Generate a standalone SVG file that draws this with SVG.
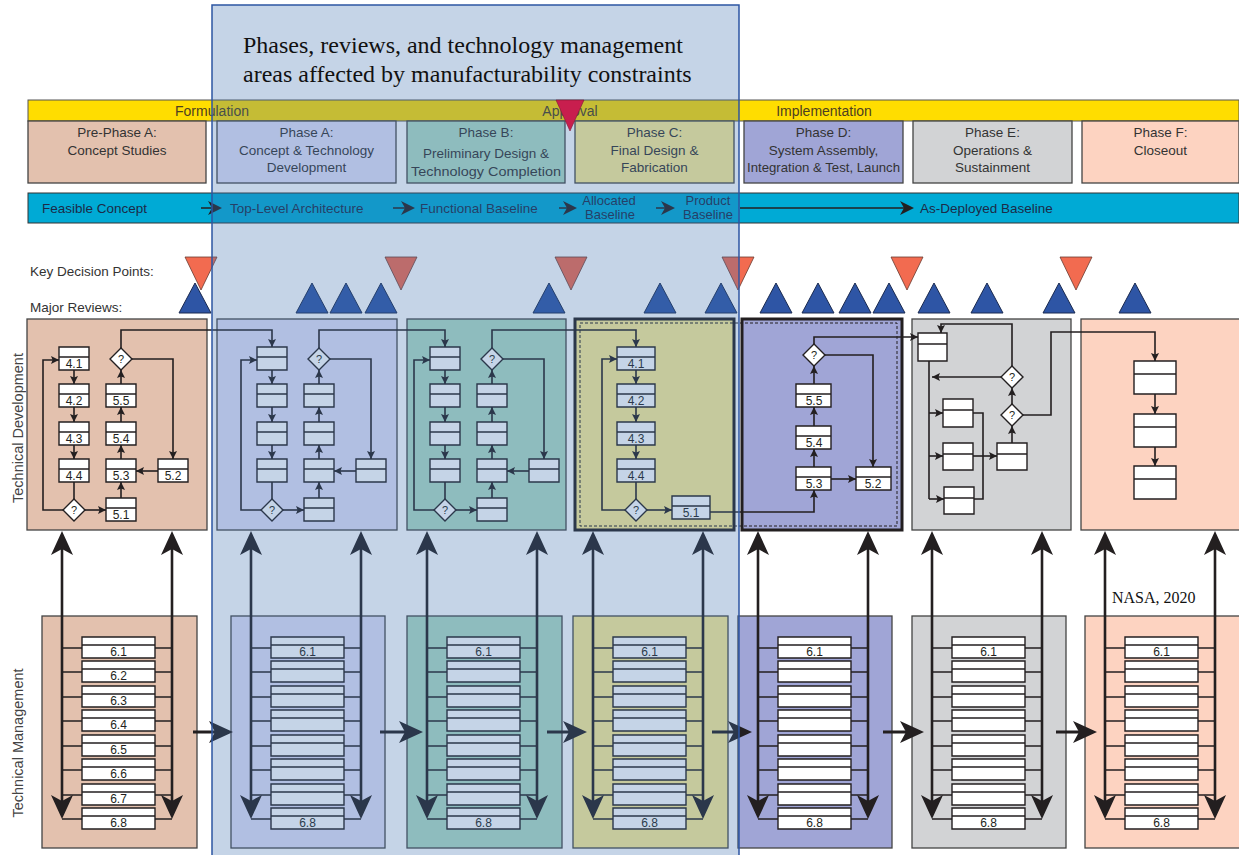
<svg xmlns="http://www.w3.org/2000/svg" width="1239" height="855" viewBox="0 0 1239 855">
<style>
.t{font-family:"Liberation Sans",Arial,sans-serif;font-size:13.5px;fill:#333;text-anchor:middle}
.tl{font-family:"Liberation Sans",Arial,sans-serif;font-size:13.5px;fill:#333}
.tb{font-family:"Liberation Sans",Arial,sans-serif;font-size:13.5px;fill:#1c2a48}
.tbc{font-family:"Liberation Sans",Arial,sans-serif;font-size:13px;fill:#1c2a48;text-anchor:middle}
.ty{font-family:"Liberation Sans",Arial,sans-serif;font-size:14px;fill:#4d4020;text-anchor:middle}
.lb{font-family:"Liberation Sans",Arial,sans-serif;font-size:12px;fill:#231f20;text-anchor:middle}
.q{font-family:"Liberation Sans",Arial,sans-serif;font-size:11px;fill:#231f20;text-anchor:middle}
.rot{font-family:"Liberation Sans",Arial,sans-serif;font-size:14.5px;fill:#444;text-anchor:middle}
.ln{fill:none;stroke:#231f20;stroke-width:1.6}
.a{marker-end:url(#ah)}
.bx{fill:#fff;stroke:#231f20;stroke-width:1.4}
.ph{stroke:#444;stroke-width:1.3}
.kdp{fill:#f26b50;stroke:#6a3a30;stroke-width:0.8}
.mr{fill:#2e55a5;stroke:#1a2a50;stroke-width:1}
.vl{fill:none;stroke:#231f20;stroke-width:2.6;marker-start:url(#ahb);marker-end:url(#ahb)}
.hl{fill:none;stroke:#231f20;stroke-width:3;marker-end:url(#ahb)}
.bl{fill:none;stroke:#231f20;stroke-width:1.5;marker-end:url(#ahs)}
.ser{font-family:"Liberation Serif","Times New Roman",serif;fill:#111}
.cP{fill:#e3c1ae}.cA{fill:#e3e1f8}.cB{fill:#b1ddc4}.cC{fill:#fff096}.cD{fill:#a0a5d6}.cE{fill:#d2d3d5}.cF{fill:#fdd3c1}
</style>
<defs>
<marker id="ah" viewBox="0 0 10 10" refX="10" refY="5" markerWidth="8" markerHeight="8" markerUnits="userSpaceOnUse" orient="auto"><path d="M0,0 L10,5 L0,10 L2,5 Z" fill="#231f20"/></marker>
<marker id="ahb" viewBox="0 0 24 22" refX="20" refY="11" markerWidth="24" markerHeight="22" markerUnits="userSpaceOnUse" orient="auto-start-reverse"><path d="M0,0 L24,11 L0,22 L6,11 Z" fill="#231f20"/></marker>
<marker id="ahs" viewBox="0 0 14 14" refX="12" refY="7" markerWidth="14" markerHeight="14" markerUnits="userSpaceOnUse" orient="auto"><path d="M0,0 L14,7 L0,14 L4,7 Z" fill="#231f20"/></marker>
<g id="fcn">
<path class="bx" d="M59,347h30v23h-30z M59,357h30"/>
<path class="bx" d="M59,384h30v23h-30z M59,394h30"/>
<path class="bx" d="M59,422h30v23h-30z M59,432h30"/>
<path class="bx" d="M59,459h30v23h-30z M59,469h30"/>
<path class="bx" d="M106,384h30v23h-30z M106,394h30"/>
<path class="bx" d="M106,422h30v23h-30z M106,432h30"/>
<path class="bx" d="M106,459h30v23h-30z M106,469h30"/>
<path class="bx" d="M106,498h30v23h-30z M106,508h30"/>
<path class="bx" d="M158,459h30v23h-30z M158,469h30"/>
<path class="bx" d="M74,499L85,510L74,521L63,510Z"/><text class="q" x="74" y="514">?</text>
<path class="bx" d="M121,348L132,359L121,370L110,359Z"/><text class="q" x="121" y="363">?</text>
</g>
<g id="fce">
<path class="ln a" d="M74,370V384"/>
<path class="ln a" d="M74,407V422"/>
<path class="ln a" d="M74,445V459"/>
<path class="ln" d="M74,482V499"/>
<path class="ln a" d="M85,510H106"/>
<path class="ln a" d="M63,510H43V360H59"/>
<path class="ln a" d="M121,498V482"/>
<path class="ln a" d="M121,459V445"/>
<path class="ln a" d="M121,422V407"/>
<path class="ln a" d="M121,384V370"/>
<path class="ln a" d="M132,359H173V459"/>
<path class="ln a" d="M158,471H136"/>
</g>
<g id="ldn">
<path class="bx" d="M40,21h73v21h-73z M40,29h73"/>
<path class="bx" d="M40,45h73v21h-73z M40,53h73"/>
<path class="bx" d="M40,70h73v21h-73z M40,78h73"/>
<path class="bx" d="M40,94h73v21h-73z M40,102h73"/>
<path class="bx" d="M40,119h73v21h-73z M40,127h73"/>
<path class="bx" d="M40,143h73v21h-73z M40,151h73"/>
<path class="bx" d="M40,168h73v21h-73z M40,176h73"/>
<path class="bx" d="M40,192h73v21h-73z M40,200h73"/>
</g>
<g id="lde">
<path class="ln" d="M20,32H40M113,32H130M20,56H40M113,56H130M20,81H40M113,81H130M20,105H40M113,105H130M20,130H40M113,130H130M20,154H40M113,154H130M20,179H40M113,179H130M20,203H40M113,203H130"/>
<path class="vl" d="M20,-81V199"/>
<path class="vl" d="M130,-81V199"/>
</g>
</defs>

<rect width="1239" height="855" fill="#fff"/>

<g id="lifecycle-bar">
<rect x="28" y="100" width="1211" height="21" fill="#ffdd00" stroke="#555" stroke-width="1"/>
<text class="ty" x="212" y="116">Formulation</text>
<text class="ty" x="570" y="116">Approval</text>
<text class="ty" x="824" y="116">Implementation</text>
</g>

<g id="phase-headers">
<g id="hdr-pre-a"><rect class="cP ph" x="28" y="121" width="178" height="62"/><text class="t" x="117" y="137">Pre-Phase A:</text><text class="t" x="117" y="155">Concept Studies</text></g>
<g id="hdr-a"><rect class="cA ph" x="217" y="121" width="179" height="62"/><text class="t" x="306.5" y="137">Phase A:</text><text class="t" x="306.5" y="155">Concept &amp; Technology</text><text class="t" x="306.5" y="172">Development</text></g>
<g id="hdr-b"><rect class="cB ph" x="407" y="121" width="158" height="62"/><text class="t" x="486" y="137">Phase B:</text><text class="t" x="486" y="158">Preliminary Design &amp;</text><text class="t" x="486" y="176" textLength="150" lengthAdjust="spacingAndGlyphs">Technology Completion</text></g>
<g id="hdr-c"><rect class="cC ph" x="575" y="121" width="159" height="62"/><text class="t" x="654.5" y="137">Phase C:</text><text class="t" x="654.5" y="155">Final Design &amp;</text><text class="t" x="654.5" y="172">Fabrication</text></g>
<g id="hdr-d"><rect class="cD ph" x="744" y="121" width="159" height="62"/><text class="t" x="823.5" y="137">Phase D:</text><text class="t" x="823.5" y="155">System Assembly,</text><text class="t" x="823.5" y="172" textLength="153" lengthAdjust="spacingAndGlyphs">Integration &amp; Test, Launch</text></g>
<g id="hdr-e"><rect class="cE ph" x="913" y="121" width="159" height="62"/><text class="t" x="992.5" y="137">Phase E:</text><text class="t" x="992.5" y="155">Operations &amp;</text><text class="t" x="992.5" y="172">Sustainment</text></g>
<g id="hdr-f"><rect class="cF ph" x="1082" y="121" width="157" height="62"/><text class="t" x="1160.5" y="137">Phase F:</text><text class="t" x="1160.5" y="155">Closeout</text></g>
</g>

<g id="baselines">
<rect x="28" y="193" width="1211" height="30" fill="#00aad5" stroke="#333" stroke-width="1"/>
<text class="tb" x="42" y="213">Feasible Concept</text>
<text class="tb" x="230" y="213">Top-Level Architecture</text>
<text class="tb" x="420" y="213">Functional Baseline</text>
<text class="tbc" x="609" y="205">Allocated</text><text class="tbc" x="610" y="219">Baseline</text>
<text class="tbc" x="708" y="205">Product</text><text class="tbc" x="708" y="219">Baseline</text>
<text class="tb" x="920" y="213">As-Deployed Baseline</text>
<path class="bl" d="M201,208H220"/>
<path class="bl" d="M393,208H413"/>
<path class="bl" d="M559,208H575"/>
<path class="bl" d="M656,208H673"/>
<path class="bl" d="M740,208H912"/>
</g>

<g id="milestones">
<text class="tl" x="30" y="276">Key Decision Points:</text>
<text class="tl" x="30" y="312">Major Reviews:</text>
<g id="kdps">
<path class="kdp" d="M185,257H217L201,290Z"/>
<path class="kdp" d="M385,257H417L401,290Z"/>
<path class="kdp" d="M555,257H587L571,290Z"/>
<path class="kdp" d="M722,257H754L738,290Z"/>
<path class="kdp" d="M891,257H923L907,290Z"/>
<path class="kdp" d="M1060,257H1092L1076,290Z"/>
</g>
<g id="reviews">
<path class="mr" d="M195,283L179,313H211Z"/>
<path class="mr" d="M312,283L296,313H328Z"/>
<path class="mr" d="M346,283L330,313H362Z"/>
<path class="mr" d="M381,283L365,313H397Z"/>
<path class="mr" d="M549,283L533,313H565Z"/>
<path class="mr" d="M660,283L644,313H676Z"/>
<path class="mr" d="M721,283L705,313H737Z"/>
<path class="mr" d="M776,283L760,313H792Z"/>
<path class="mr" d="M818,283L802,313H834Z"/>
<path class="mr" d="M855,283L839,313H871Z"/>
<path class="mr" d="M889,283L873,313H905Z"/>
<path class="mr" d="M934,283L918,313H950Z"/>
<path class="mr" d="M987,283L971,313H1003Z"/>
<path class="mr" d="M1059,283L1043,313H1075Z"/>
<path class="mr" d="M1135,283L1119,313H1151Z"/>
</g>
</g>

<text class="rot" transform="translate(23,428) rotate(-90)">Technical Development</text>
<text class="rot" transform="translate(23,743) rotate(-90)">Technical Management</text>

<g id="tech-dev-panels">
<rect class="cP ph" x="27" y="319" width="180" height="211"/>
<rect class="cA ph" x="217" y="319" width="180" height="211"/>
<rect class="cB ph" x="407" y="319" width="159" height="211"/>
<rect class="cC" x="575" y="319" width="159" height="211" stroke="#231f20" stroke-width="3"/>
<rect class="cD" x="742" y="319" width="160" height="211" stroke="#231f20" stroke-width="3"/>
<rect class="cE ph" x="912" y="319" width="159" height="211"/>
<rect class="cF ph" x="1081" y="319" width="160" height="211"/>
<rect x="580" y="323" width="317" height="203" fill="none" stroke="#231f20" stroke-width="1" stroke-dasharray="3,2"/>
</g>

<g id="tech-mgmt-panels">
<rect class="cP ph" x="42" y="616" width="155" height="232"/>
<rect class="cA ph" x="231" y="616" width="154" height="232"/>
<rect class="cB ph" x="407" y="616" width="155" height="232"/>
<rect class="cC ph" x="573" y="616" width="155" height="232"/>
<rect class="cD ph" x="738" y="616" width="154" height="232"/>
<rect class="cE ph" x="912" y="616" width="154" height="232"/>
<rect class="cF ph" x="1085" y="616" width="156" height="232"/>
</g>

<g id="connectors">
<use href="#fce"/>
<use href="#fce" x="198"/>
<use href="#fce" x="371"/>
<path class="ln a" d="M121,348V330H272V347"/>
<path class="ln a" d="M319,348V330H445V347"/>
<path class="ln a" d="M492,348V330H636V347"/>
<path class="ln a" d="M636,370V384"/>
<path class="ln a" d="M636,407V422"/>
<path class="ln a" d="M636,445V459"/>
<path class="ln" d="M636,482V499"/>
<path class="ln a" d="M647,510H672"/>
<path class="ln a" d="M625,510H602V359H617"/>
<path class="ln a" d="M710,512H814V490"/>
<path class="ln a" d="M814,467V449"/>
<path class="ln a" d="M814,426V407"/>
<path class="ln a" d="M814,384V366"/>
<path class="ln a" d="M831,479H856"/>
<path class="ln a" d="M825,355H873V467"/>
<path class="ln a" d="M814,344V337H918"/>
<path class="ln" d="M929,361V499"/>
<path class="ln a" d="M929,413H943"/>
<path class="ln a" d="M929,456H943"/>
<path class="ln a" d="M929,499H944"/>
<path class="ln" d="M973,413H983V499H974"/>
<path class="ln a" d="M973,456H997"/>
<path class="ln a" d="M1012,443V426"/>
<path class="ln a" d="M1012,404V388"/>
<path class="ln a" d="M1001,377H932"/>
<path class="ln a" d="M1012,366V324H941V333"/>
<path class="ln a" d="M1023,415H1051V332H1155V361"/>
<path class="ln a" d="M1155,394V414"/>
<path class="ln a" d="M1155,447V466"/>
<use href="#lde" transform="translate(42,616)"/>
<use href="#lde" transform="translate(231,616)"/>
<use href="#lde" transform="translate(407,616)"/>
<use href="#lde" transform="translate(573,616)"/>
<use href="#lde" transform="translate(738,616)"/>
<use href="#lde" transform="translate(912,616)"/>
<use href="#lde" transform="translate(1085,616)"/>
<path class="hl" d="M193,732H229"/>
<path class="hl" d="M380,732H419"/>
<path class="hl" d="M547,732H583"/>
<path class="hl" d="M712,732H748"/>
<path class="hl" d="M883,732H920"/>
<path class="hl" d="M1056,732H1093"/>
</g>

<g id="td-pre-phase-a">
<use href="#fcn"/>
<text class="lb" x="74" y="368">4.1</text><text class="lb" x="74" y="405">4.2</text><text class="lb" x="74" y="443">4.3</text><text class="lb" x="74" y="480">4.4</text>
<text class="lb" x="121" y="405">5.5</text><text class="lb" x="121" y="443">5.4</text><text class="lb" x="121" y="480">5.3</text><text class="lb" x="121" y="519">5.1</text>
<text class="lb" x="173" y="480">5.2</text>
</g>
<g id="td-phase-a"><use href="#fcn" x="198"/></g>
<g id="td-phase-b"><use href="#fcn" x="371"/></g>
<g id="td-phase-c">
<path class="bx" d="M617,347h38v23h-38z M617,357h38"/>
<path class="bx" d="M617,384h38v23h-38z M617,394h38"/>
<path class="bx" d="M617,422h38v23h-38z M617,432h38"/>
<path class="bx" d="M617,459h38v23h-38z M617,469h38"/>
<path class="bx" d="M672,496h38v23h-38z M672,506h38"/>
<path class="bx" d="M636,499L647,510L636,521L625,510Z"/><text class="q" x="636" y="514">?</text>
<text class="lb" x="636" y="368">4.1</text><text class="lb" x="636" y="405">4.2</text><text class="lb" x="636" y="443">4.3</text><text class="lb" x="636" y="480">4.4</text><text class="lb" x="691" y="517">5.1</text>
</g>
<g id="td-phase-d">
<path class="bx" d="M796,384h35v23h-35z M796,394h35"/>
<path class="bx" d="M796,426h35v23h-35z M796,436h35"/>
<path class="bx" d="M796,467h35v23h-35z M796,477h35"/>
<path class="bx" d="M856,467h35v23h-35z M856,477h35"/>
<path class="bx" d="M814,344L825,355L814,366L803,355Z"/><text class="q" x="814" y="359">?</text>
<text class="lb" x="814" y="405">5.5</text><text class="lb" x="814" y="447">5.4</text><text class="lb" x="814" y="488">5.3</text><text class="lb" x="873" y="488">5.2</text>
</g>
<g id="td-phase-e">
<path class="bx" d="M918,333h29v28h-29z M918,344h29"/>
<path class="bx" d="M943,399h30v28h-30z M943,410h30"/>
<path class="bx" d="M943,443h30v27h-30z M943,454h30"/>
<path class="bx" d="M944,487h30v27h-30z M944,498h30"/>
<path class="bx" d="M997,443h30v27h-30z M997,454h30"/>
<path class="bx" d="M1012,366L1023,377L1012,388L1001,377Z"/><text class="q" x="1012" y="381">?</text>
<path class="bx" d="M1012,404L1023,415L1012,426L1001,415Z"/><text class="q" x="1012" y="419">?</text>
</g>
<g id="td-phase-f">
<path class="bx" d="M1134,361h42v33h-42z M1134,374h42"/>
<path class="bx" d="M1134,414h42v33h-42z M1134,427h42"/>
<path class="bx" d="M1134,466h42v33h-42z M1134,479h42"/>
</g>

<g id="tm-pre-phase-a">
<use href="#ldn" transform="translate(42,616)"/>
<text class="lb" x="118.5" y="656">6.1</text><text class="lb" x="118.5" y="680">6.2</text><text class="lb" x="118.5" y="705">6.3</text><text class="lb" x="118.5" y="729">6.4</text><text class="lb" x="118.5" y="754">6.5</text><text class="lb" x="118.5" y="778">6.6</text><text class="lb" x="118.5" y="803">6.7</text><text class="lb" x="118.5" y="827">6.8</text>
</g>
<g id="tm-phase-a"><use href="#ldn" transform="translate(231,616)"/><text class="lb" x="307.5" y="656">6.1</text><text class="lb" x="307.5" y="827">6.8</text></g>
<g id="tm-phase-b"><use href="#ldn" transform="translate(407,616)"/><text class="lb" x="483.5" y="656">6.1</text><text class="lb" x="483.5" y="827">6.8</text></g>
<g id="tm-phase-c"><use href="#ldn" transform="translate(573,616)"/><text class="lb" x="649.5" y="656">6.1</text><text class="lb" x="649.5" y="827">6.8</text></g>
<g id="tm-phase-d"><use href="#ldn" transform="translate(738,616)"/><text class="lb" x="814.5" y="656">6.1</text><text class="lb" x="814.5" y="827">6.8</text></g>
<g id="tm-phase-e"><use href="#ldn" transform="translate(912,616)"/><text class="lb" x="988.5" y="656">6.1</text><text class="lb" x="988.5" y="827">6.8</text></g>
<g id="tm-phase-f"><use href="#ldn" transform="translate(1085,616)"/><text class="lb" x="1161.5" y="656">6.1</text><text class="lb" x="1161.5" y="827">6.8</text></g>

<text class="ser" x="1112" y="603" style="font-size:16px">NASA, 2020</text>

<g id="highlight-region">
<rect x="212" y="5" width="527" height="860" fill="#3f6fb0" fill-opacity="0.3" stroke="#2c55a3" stroke-width="1.5"/>
<text class="ser" x="243" y="53" style="font-size:24px">Phases, reviews, and technology management</text>
<text class="ser" x="243" y="82" style="font-size:24px">areas affected by manufacturability constraints</text>
</g>
<path id="approval-kdp" d="M556,100H584L570,131Z" fill="#c81e4e" stroke="#7a1a30" stroke-width="0.6"/>
</svg>
